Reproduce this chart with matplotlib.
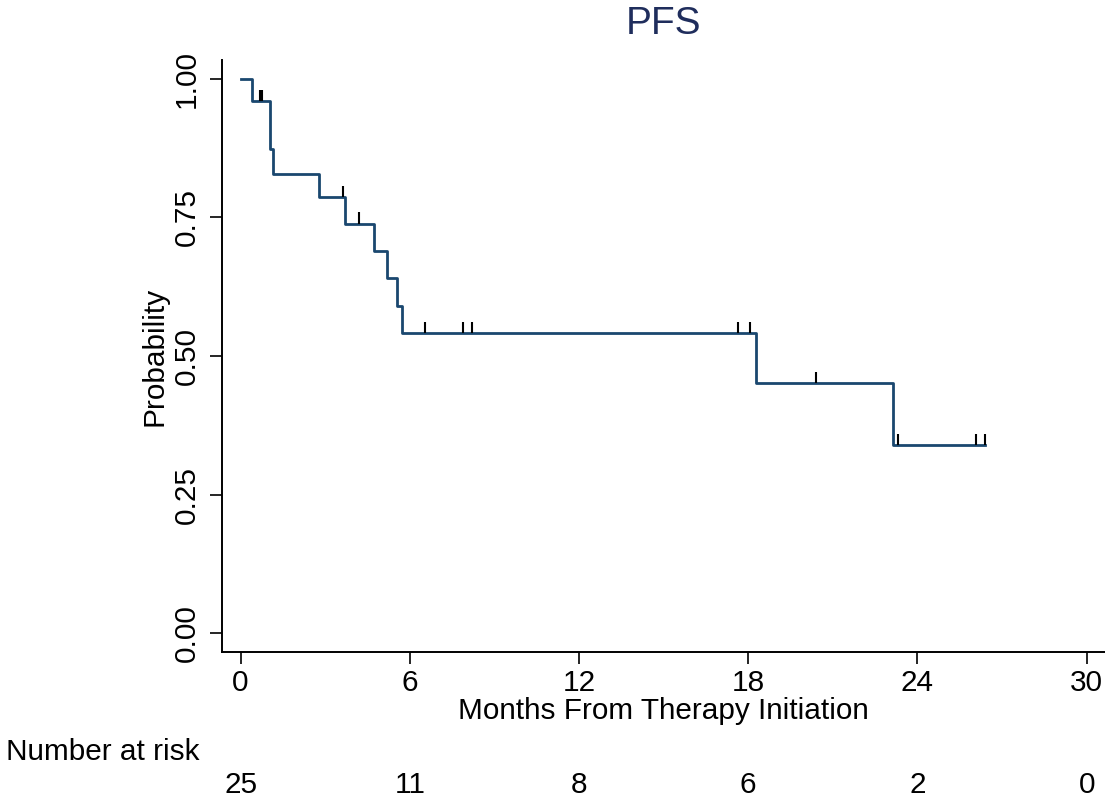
import numpy as np
import matplotlib
matplotlib.use("Agg")
import matplotlib.pyplot as plt
from matplotlib.transforms import blended_transform_factory

plt.rcParams['font.family'] = ['Liberation Sans', 'DejaVu Sans']

# Kaplan-Meier steps
step_times = [0.0, 0.40, 1.03, 1.15, 2.77, 3.69, 4.73, 5.18, 5.53, 5.72, 18.26, 23.12]
surv = [1.0, 0.960, 0.873, 0.829, 0.786, 0.739, 0.690, 0.641, 0.591, 0.542, 0.452, 0.339]
end_time = 26.38

# censored observations
censor_times = [0.69, 0.76, 3.62, 4.21, 6.54, 7.89, 8.21, 17.63, 18.07, 20.42, 23.32, 26.09, 26.38]

# number at risk table
risk_times = [0, 6, 12, 18, 24, 30]
at_risk = [25, 11, 8, 6, 2, 0]

line_col = '#1a476f'
title_col = '#1f2d5c'
fs = 21.4

fig = plt.figure(figsize=(11.05, 8.02), dpi=100)
ax = fig.add_axes([222/1105, 150/802, 1 - 222/1105, 592/802])

xs = step_times + [end_time]
ys = surv + [surv[-1]]
ax.step(xs, ys, where='post', color=line_col, lw=2.0, zorder=3)

# censor ticks sit on the curve, pointing up
idx = np.searchsorted(step_times, censor_times, side='right') - 1
cs = np.array(surv)[idx]
ax.vlines(censor_times, cs, cs + 0.02, color='black', lw=1.5, zorder=4)

ax.set_xlim(-0.66, 30.65)
ax.set_ylim(-0.034, 1.034)
ax.set_xticks(risk_times)
ax.set_yticks([0, 0.25, 0.5, 0.75, 1.0])
ax.set_yticklabels(['0.00', '0.25', '0.50', '0.75', '1.00'])

for s in ['top', 'right']:
    ax.spines[s].set_visible(False)
for s in ['left', 'bottom']:
    ax.spines[s].set_linewidth(1.4)

ax.tick_params(axis='both', direction='out', length=8.5, width=1.2, labelsize=fs)
ax.tick_params(axis='x', pad=4)
ax.tick_params(axis='y', pad=7, labelrotation=90)
for lab in ax.get_yticklabels():
    lab.set_va('center')

ax.set_xlabel('Months From Therapy Initiation', fontsize=fs, labelpad=0)
ax.set_ylabel('Probability', fontsize=fs, labelpad=3)
ax.set_title('PFS', fontsize=28, color=title_col, pad=19)

# number at risk
tr = blended_transform_factory(ax.transData, fig.transFigure)
fig.text(6/1105, (802-760)/802, 'Number at risk', fontsize=fs, ha='left', va='baseline')
for t, n in zip(risk_times, at_risk):
    ax.text(t, (802-793)/802, str(n), transform=tr, fontsize=fs,
            ha='center', va='baseline', clip_on=False)

fig.savefig('out.png', dpi=100)
